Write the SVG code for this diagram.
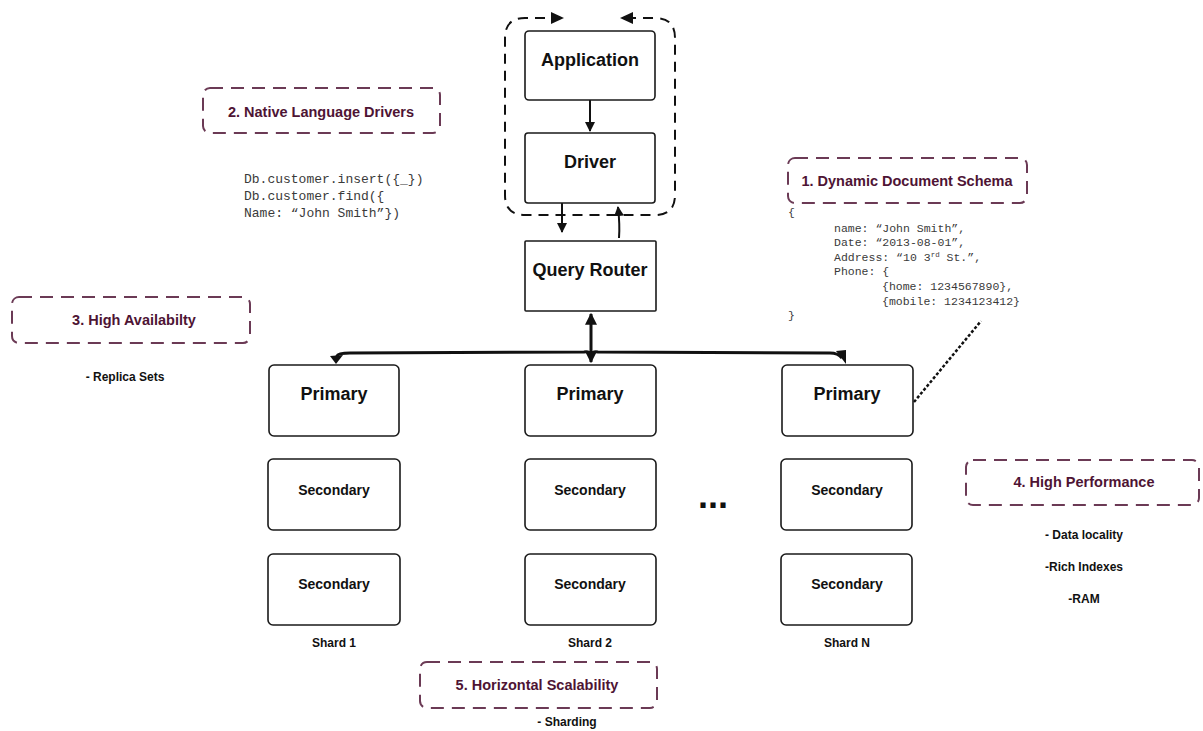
<svg xmlns="http://www.w3.org/2000/svg" width="1203" height="731" viewBox="0 0 1203 731">
  <defs>
    <style>
      .box { fill: #ffffff; stroke: #1a1a1a; stroke-width: 1.6; }
      .lbl { font-family: "Liberation Sans", Arial, sans-serif; font-weight: 700; fill: #111; text-anchor: middle; }
      .big { font-size: 18px; }
      .sec { font-size: 14px; }
      .small { font-size: 12px; }
      .callout { fill: none; stroke: #6b3a55; stroke-width: 2; stroke-dasharray: 13 8; }
      .ctext { font-family: "Liberation Sans", Arial, sans-serif; font-weight: 700; font-size: 14.5px; fill: #4e1434; text-anchor: middle; }
      .code { font-family: "Liberation Mono", "Courier New", monospace; fill: #3a3a3a; }
      .wire { fill: none; stroke: #111; stroke-width: 2; }
      .thick { fill: none; stroke: #111; stroke-width: 3; }
      .dash { fill: none; stroke: #111; stroke-width: 2; stroke-dasharray: 10 7; }
    </style>
    <marker id="head" viewBox="0 0 10 10" refX="9" refY="5" markerWidth="5" markerHeight="5" orient="auto-start-reverse" markerUnits="strokeWidth">
      <path d="M0,0 L10,5 L0,10 z" fill="#111"/>
    </marker>
    <marker id="headT" viewBox="0 0 10 10" refX="9" refY="5" markerWidth="4" markerHeight="4" orient="auto-start-reverse" markerUnits="strokeWidth">
      <path d="M0,0 L10,5 L0,10 z" fill="#111"/>
    </marker>
  </defs>

  <rect width="1203" height="731" fill="#ffffff"/>

  <!-- connectors -->
  <g id="connectors">
    <!-- client boundary loop with arrows at the top opening -->
    <path class="dash" d="M562,18 L525,18 Q505,18 505,38 L505,195 Q505,215 525,215 L655,215 Q675,215 675,195 L675,38 Q675,18 655,18 L622,18"/>
    <path d="M551,12 L564,18 L551,24 z" fill="#111"/>
    <path d="M633,12 L620,18 L633,24 z" fill="#111"/>
    <!-- Application to Driver -->
    <line class="wire" x1="590" y1="100" x2="590" y2="131" marker-end="url(#head)"/>
    <!-- Driver to Query Router and back -->
    <line class="wire" x1="562" y1="203" x2="562" y2="232" marker-end="url(#head)"/>
    <path class="wire" d="M619,238 Q620,225 618,207" marker-end="url(#head)"/>
    <!-- Query Router to shard bus -->
    <line class="thick" x1="591" y1="314" x2="591" y2="362" marker-start="url(#headT)" marker-end="url(#headT)"/>
    <path class="thick" d="M337,359 L337,356 Q338,353 350,353 L584,352 Q591,351 591,356 Q591,351 598,352 L830,353 Q838,353 842,358"/>
    <path d="M330,356 L343,355 L336,364 z" fill="#111"/>
    <path d="M836,351 L846,350 L846,364 z" fill="#111"/>
    <!-- schema note link -->
    <line x1="914" y1="402" x2="981" y2="321" stroke="#111" stroke-width="2.5" stroke-dasharray="3 2"/>
  </g>

  <!-- client side -->
  <g id="application">
    <rect class="box" x="525" y="31" width="130" height="69" rx="4"/>
    <text class="lbl big" x="590" y="66">Application</text>
  </g>
  <g id="driver">
    <rect class="box" x="525" y="133" width="130" height="70" rx="3"/>
    <text class="lbl big" x="590" y="168">Driver</text>
  </g>
  <g id="query-router">
    <rect class="box" x="525" y="241" width="131" height="70" rx="1"/>
    <text class="lbl big" x="590" y="276">Query Router</text>
  </g>

  <!-- shard 1 -->
  <g id="shard1-primary">
    <rect class="box" x="269" y="365" width="130" height="71" rx="5"/>
    <text class="lbl big" x="334" y="400">Primary</text>
  </g>
  <g id="shard1-secondary-a">
    <rect class="box" x="268" y="459" width="132" height="71" rx="5"/>
    <text class="lbl sec" x="334" y="495">Secondary</text>
  </g>
  <g id="shard1-secondary-b">
    <rect class="box" x="268" y="554" width="132" height="71" rx="5"/>
    <text class="lbl sec" x="334" y="589">Secondary</text>
  </g>
  <text class="lbl small" x="334" y="647">Shard 1</text>

  <!-- shard 2 -->
  <g id="shard2-primary">
    <rect class="box" x="525" y="365" width="131" height="71" rx="5"/>
    <text class="lbl big" x="590" y="400">Primary</text>
  </g>
  <g id="shard2-secondary-a">
    <rect class="box" x="525" y="459" width="131" height="71" rx="5"/>
    <text class="lbl sec" x="590" y="495">Secondary</text>
  </g>
  <g id="shard2-secondary-b">
    <rect class="box" x="525" y="554" width="131" height="71" rx="5"/>
    <text class="lbl sec" x="590" y="589">Secondary</text>
  </g>
  <text class="lbl small" x="590" y="647">Shard 2</text>

  <text class="lbl" x="713" y="508" font-size="36">...</text>

  <!-- shard N -->
  <g id="shardN-primary">
    <rect class="box" x="782" y="365" width="131" height="71" rx="5"/>
    <text class="lbl big" x="847" y="400">Primary</text>
  </g>
  <g id="shardN-secondary-a">
    <rect class="box" x="781" y="459" width="131" height="71" rx="5"/>
    <text class="lbl sec" x="847" y="495">Secondary</text>
  </g>
  <g id="shardN-secondary-b">
    <rect class="box" x="781" y="554" width="131" height="71" rx="5"/>
    <text class="lbl sec" x="847" y="589">Secondary</text>
  </g>
  <text class="lbl small" x="847" y="647">Shard N</text>

  <!-- feature callouts -->
  <g id="callout-schema">
    <rect class="callout" x="788" y="158" width="239" height="45" rx="7"/>
    <text class="ctext" x="907" y="186">1. Dynamic Document Schema</text>
    <g class="code" font-size="11.5">
      <text x="788" y="216">{</text>
      <text x="834" y="232">name: “John Smith”,</text>
      <text x="834" y="246">Date: “2013-08-01”,</text>
      <text x="834" y="261">Address: “10 3<tspan font-size="7.5" dy="-4">rd</tspan><tspan dy="4"> St.”,</tspan></text>
      <text x="834" y="275">Phone: {</text>
      <text x="882" y="290">{home: 1234567890},</text>
      <text x="882" y="305">{mobile: 1234123412}</text>
      <text x="788" y="319">}</text>
    </g>
  </g>

  <g id="callout-drivers">
    <rect class="callout" x="203" y="88" width="237" height="45" rx="7"/>
    <text class="ctext" x="321" y="117">2. Native Language Drivers</text>
    <g class="code" font-size="13">
      <text x="244" y="183">Db.customer.insert({_})</text>
      <text x="244" y="200">Db.customer.find({</text>
      <text x="244" y="217">Name: “John Smith”})</text>
    </g>
  </g>

  <g id="callout-availability">
    <rect class="callout" x="12" y="297" width="238" height="46" rx="7"/>
    <text class="ctext" x="134" y="325">3. High Availabilty</text>
    <text class="lbl small" x="125" y="381">- Replica Sets</text>
  </g>

  <g id="callout-performance">
    <rect class="callout" x="966" y="460" width="233" height="45" rx="7"/>
    <text class="ctext" x="1084" y="487">4. High Performance</text>
    <text class="lbl small" x="1084" y="539">- Data locality</text>
    <text class="lbl small" x="1084" y="571">-Rich Indexes</text>
    <text class="lbl small" x="1084" y="603">-RAM</text>
  </g>

  <g id="callout-scalability">
    <rect class="callout" x="420" y="662" width="237" height="46" rx="7"/>
    <text class="ctext" x="537" y="690">5. Horizontal Scalability</text>
    <text class="lbl small" x="567" y="726">- Sharding</text>
  </g>
</svg>
